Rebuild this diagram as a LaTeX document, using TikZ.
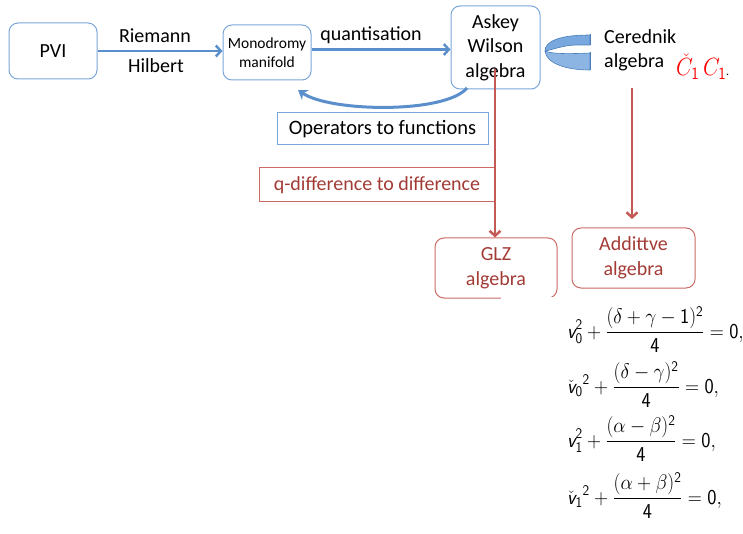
\documentclass[tikz,border=0pt]{standalone}
\usepackage{amsmath}
\usepackage{graphicx}
\usepackage{fontspec}
\setmainfont{Carlito}
\usetikzlibrary{arrows.meta}
\definecolor{bbord}{HTML}{7AA6DA}
\definecolor{barrow}{HTML}{5B8FCC}
\definecolor{bdark}{HTML}{4A7EBB}
\definecolor{blight}{HTML}{79A8DE}
\definecolor{rline}{HTML}{C45A56}
\definecolor{rtext}{HTML}{A33B35}
\definecolor{rbord}{HTML}{CC6A66}
\newcommand\vsf{\text{\sffamily\itshape v}}
\newcommand\sd[1]{\mathsf{#1}}
\newcommand\eqbox[1]{\scalebox{0.94}[1.02]{$\displaystyle #1$}}
\tikzset{
  bbox/.style={draw=bbord, line width=1pt, rounded corners=9pt, align=center, inner sep=0pt, fill=white},
  rbox/.style={draw=rbord, line width=1pt, rounded corners=9pt, align=center, inner sep=0pt, text=rtext},
  lbl/.style={inner sep=0pt, font=\fontsize{20}{24}\selectfont},
  barr/.style={draw=barrow, line width=2.5pt, -{Straight Barb[length=5pt,width=11pt,line width=2.5pt]}},
  rarr/.style={draw=rline, line width=2.5pt, -{Straight Barb[length=5pt,width=11pt,line width=2.5pt]}},
  eq/.style={inner sep=0pt, anchor=base west, font=\fontsize{20.74}{25}\selectfont}
}
\begin{document}
\begin{tikzpicture}[x=1pt,y=-1pt]
\useasboundingbox (0,0) rectangle (743,534);
% boxes
\node[bbox, minimum width=88pt, minimum height=56pt, font=\fontsize{20}{24}\selectfont] (pvi) at (53,51) {PVI};
\node[bbox, minimum width=88pt, minimum height=55pt, font=\fontsize{15.5}{18.5}\selectfont] (mono) at (267,52.5) {Monodromy\\manifold};
\node[bbox, minimum width=89pt, minimum height=83pt, font=\fontsize{20}{24.5}\selectfont] (askey) at (495.5,47.5) {Askey\\Wilson\\algebra};
\node[draw=bbord, line width=1pt, minimum width=211pt, minimum height=32pt, inner sep=0pt, font=\fontsize{20.5}{24}\selectfont] (ops) at (382.5,129) {Operators to functions};
\node[draw=rbord, line width=1pt, minimum width=236pt, minimum height=34pt, inner sep=0pt, text=rtext, font=\fontsize{20}{24}\selectfont] (qd) at (377,185) {q-difference to difference};
\node[rbox, minimum width=122pt, minimum height=60pt, font=\fontsize{20}{25}\selectfont] (glz) at (496,268) {GLZ\\algebra};
\node[rbox, minimum width=123pt, minimum height=60pt, font=\fontsize{20}{25}\selectfont] (add) at (633.5,258) {Addittve\\algebra};
% labels
\node[lbl] (rie) at (155,36) {Riemann};
\node[lbl] (hil) at (156,66) {Hilbert};
\node[lbl] (qua) at (371,35) {quantisation};
\node[lbl, anchor=west] (cer) at (604,37) {Cerednik};
\node[lbl, anchor=west] (alg) at (604,62) {algebra};
\node[inner sep=0pt, anchor=base west, font=\fontsize{20.74}{25}\selectfont] (cc) at (676,76) {\textcolor{red}{\scalebox{1.05}[1.2]{$\check{C}_{\sd 1}\,C_{\sd 1}$}}{\fontsize{12}{14}\selectfont.}};
% blue arrows
\draw[barr] (pvi.east) -- (pvi.east -| mono.west);
\draw[barr] (mono.east) ++(0,-3) -- (askey.west |- 0,49.5);
\coordinate (cs) at (467,88);
\coordinate (ce) at (298,90);
\draw[draw=barrow, line width=3pt, -{Stealth[length=9pt,width=12pt]}] (cs) .. controls (445,114) and (330,112) .. (ce);
% C-shaped band
\fill[blight, draw=bdark, line width=0.6pt] (590,35) .. controls (560,35) and (545,41) .. (545,51) .. controls (552,50) and (560,46) .. (575,45) -- (590,45) -- cycle;
\fill[blight!85!white, draw=bdark, line width=0.6pt] (545,51) .. controls (546,63) and (565,70) .. (590,70) -- (590,53) .. controls (568,54) and (552,54) .. (545,51) -- cycle;
\draw[bdark, line width=1pt] (590,34) -- (590,45);
\draw[bdark, line width=1pt] (590,52) -- (590,70);
% red arrows
\coordinate (r1) at (495,69);
\draw[rarr] (r1) -- (glz.north -| r1);
\coordinate (r2) at (632,88);
\coordinate (r2e) at (632,219);
\draw[rarr] (r2) -- (r2e);
% white cover of equation image
\fill[white] (501,297) rectangle (743,534);
% equations
\node[eq] (e1) at (567,338) {\eqbox{\vsf_{\sd 0}^{\sd 2}+\frac{(\delta+\gamma-\sd 1)^{\sd 2}}{\sd 4}=\sd 0,}};
\node[eq] (e2) at (567,393) {\eqbox{{\check{\vsf}_{\sd 0}}{}^{\sd 2}+\frac{(\delta-\gamma)^{\sd 2}}{\sd 4}=\sd 0,}};
\node[eq] (e3) at (567,447) {\eqbox{\vsf_{\sd 1}^{\sd 2}+\frac{(\alpha-\beta)^{\sd 2}}{\sd 4}=\sd 0,}};
\node[eq] (e4) at (567,504) {\eqbox{{\check{\vsf}_{\sd 1}}{}^{\sd 2}+\frac{(\alpha+\beta)^{\sd 2}}{\sd 4}=\sd 0,}};
\end{tikzpicture}
\end{document}
